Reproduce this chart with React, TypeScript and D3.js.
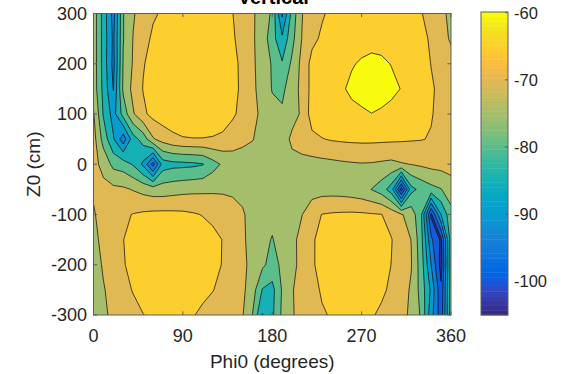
import React from "react";
import * as d3 from "d3";

// grid of the measurement (Phi0 in degrees, Z0 in cm)
const phiGrid = [
  0, 10, 20, 30, 40, 50, 60, 70, 80, 90, 100, 110, 120, 130, 140, 150, 160, 170, 180,
  190, 200, 210, 220, 230, 240, 250, 260, 270, 280, 290, 300, 310, 320, 330, 340, 350, 360,
];
const z0Grid = [300, 250, 200, 150, 100, 50, 0, -50, -100, -150, -200, -250, -300];

// one row per Z0 value (top row = 300 cm), one column per Phi0 value
const signal = [
  [-72, -82, -92, -75.2, -70.5, -67.5, -65.5, -64.5, -63.5, -63, -62.8, -63, -63.5, -64.2, -64.9, -67, -69.5, -71.5, -76, -91, -78, -70.2, -67, -65.5, -64, -63, -62.5, -62.3, -62.3, -62.5, -63, -63.5, -64.2, -64.8, -66.5, -69, -71],
  [-72, -82, -91, -75.2, -69.8, -66.5, -64.3, -63.5, -62.7, -62.3, -62.2, -62.5, -63, -63.8, -64.6, -66.2, -69.4, -72, -78, -84, -76.5, -69.8, -66.2, -64.3, -63.2, -62.3, -61.5, -61, -60.8, -61, -61.5, -62.2, -63, -64, -65.5, -68.5, -70.5],
  [-72, -82, -91.5, -74.5, -69.5, -65.3, -63.5, -62.5, -62, -61.5, -61.3, -61.5, -62, -62.8, -64, -65.8, -69.2, -72, -75.5, -79.5, -74, -68.5, -63.5, -62.5, -61.7, -60.8, -60.2, -59.7, -59.4, -59.5, -60.1, -61, -62, -63.3, -65.1, -67, -68.5],
  [-72, -81.5, -90.2, -74, -68.5, -64.8, -62.8, -62, -61.5, -61, -60.8, -61, -61.5, -62.3, -63.5, -66, -69, -71.8, -75.3, -76, -72.5, -68.5, -63.5, -62, -61, -60.3, -59.5, -58.8, -58.5, -58.8, -59.3, -60.1, -61.5, -63, -64.5, -66, -68],
  [-69.5, -80.5, -87, -78, -70.5, -66, -63.5, -62.3, -61.6, -61.2, -61, -61.2, -61.7, -62.5, -64.3, -66.3, -68.7, -71, -73.5, -74.3, -72.5, -69, -62.8, -61.8, -61.2, -60.9, -60.7, -60.5, -60.05, -60.4, -60.9, -61.5, -62.4, -63.5, -64.7, -66.3, -67.5],
  [-68, -77, -84.5, -93, -82, -78, -70.5, -68, -66.3, -65.4, -65.2, -65.2, -65.4, -66, -67.3, -68.8, -69.8, -71.5, -73, -73.5, -68.5, -67, -66.2, -65.2, -64.6, -64.3, -64.1, -64, -64, -64.1, -64.2, -64.4, -64.6, -64.8, -65.3, -66.5, -67.5],
  [-68.5, -71.5, -76.5, -77.5, -80.5, -86, -97, -82.5, -81.5, -81.3, -81, -80.3, -77, -74.3, -73, -72.5, -72.2, -72.3, -72.5, -72.5, -72.3, -72, -71.7, -71.5, -71.2, -70.8, -70.5, -70.3, -70.4, -70.8, -71.2, -70.4, -69.9, -69.2, -68.5, -68.2, -68],
  [-69.3, -68.7, -68.8, -69.2, -70.3, -71.5, -72.5, -72.5, -72, -71.5, -71.2, -71, -70.8, -70.7, -70.8, -71.2, -72, -72.5, -72.8, -72.7, -72.5, -72, -72, -72, -72, -72.2, -72.7, -73.5, -75.1, -77.5, -82.5, -102, -81.5, -78.5, -76.5, -75.2, -72.5],
  [-70.5, -68, -66.8, -65.8, -64.8, -64.2, -63.8, -63.7, -63.8, -64, -64.5, -65.2, -66, -67, -68.2, -69.5, -71.5, -73, -74, -73.5, -72, -70.1, -67, -64.9, -64.5, -64.3, -64.2, -64.3, -64.6, -64.9, -67, -69.6, -72, -79.5, -101, -85, -76.5],
  [-71.5, -68.5, -66, -65.05, -63.8, -62.8, -62.2, -61.8, -61.7, -61.8, -62.2, -62.8, -63.8, -65.1, -67, -69.3, -71.5, -74, -75.2, -73.5, -71.2, -68.5, -65.5, -63.8, -62.8, -62.2, -61.8, -61.8, -62.2, -63, -64.8, -67.5, -70.1, -78.3, -94, -101, -77],
  [-72, -69.5, -67, -65.3, -63.8, -62.7, -62, -61.5, -61.3, -61.4, -61.8, -62.5, -63.7, -65.2, -67.5, -68.8, -71.5, -74, -77, -74, -71.3, -68.5, -65.6, -63.5, -62.3, -61.5, -61.2, -61.2, -61.7, -62.8, -65.1, -67.5, -69.8, -77.5, -90, -102, -77],
  [-72.5, -70.3, -68.5, -66.5, -64.7, -63.5, -62.7, -62.2, -62, -62.2, -62.8, -63.8, -64.8, -66.5, -68.3, -69, -72.5, -80.3, -81.5, -74.5, -70.2, -68.8, -66.5, -64.5, -63, -62.2, -61.8, -62, -62.8, -64, -66, -68.3, -70.5, -77, -86, -99, -77],
  [-73, -70.8, -69, -68, -66.5, -65.1, -64.2, -63.7, -63.5, -63.8, -64.7, -66, -67.3, -68.3, -69, -69.6, -75, -85.3, -81, -74, -70.5, -68, -66.5, -65.5, -64.6, -63.8, -63.5, -63.6, -64.5, -66, -67.5, -68.5, -71, -75.7, -88, -98, -77],
];

const levelList = [-100, -95, -90, -85, -80, -75, -70, -65, -60];
const phiTicks = [0, 90, 180, 270, 360];
const z0Ticks = [-300, -200, -100, 0, 100, 200, 300];
const colorTicks = [-100, -90, -80, -70, -60];
const colorLimits = [-105, -59.9];

// MATLAB parula, 64 entries
const PARULA = [
  [0.2081, 0.1663, 0.5292], [0.2116, 0.1898, 0.5777], [0.2123, 0.2138, 0.627], [0.2081, 0.2386, 0.6771],
  [0.1959, 0.2645, 0.7279], [0.1707, 0.2919, 0.7792], [0.1253, 0.3242, 0.8303], [0.0591, 0.3598, 0.8683],
  [0.0117, 0.3875, 0.882], [0.006, 0.4086, 0.8828], [0.0165, 0.4266, 0.8786], [0.0329, 0.443, 0.872],
  [0.0498, 0.4586, 0.8641], [0.0629, 0.4737, 0.8554], [0.0723, 0.4887, 0.8467], [0.0779, 0.504, 0.8384],
  [0.0793, 0.52, 0.8312], [0.0749, 0.5375, 0.8263], [0.0641, 0.557, 0.824], [0.0488, 0.5772, 0.8228],
  [0.0343, 0.5966, 0.8199], [0.0265, 0.6137, 0.8135], [0.0239, 0.6287, 0.8038], [0.0231, 0.6418, 0.7913],
  [0.0228, 0.6535, 0.7768], [0.0267, 0.6642, 0.7607], [0.0384, 0.6743, 0.7436], [0.059, 0.6838, 0.7254],
  [0.0843, 0.6928, 0.7062], [0.1133, 0.7015, 0.6859], [0.1453, 0.7098, 0.6646], [0.1801, 0.7177, 0.6424],
  [0.2178, 0.725, 0.6193], [0.2586, 0.7317, 0.5954], [0.3022, 0.7376, 0.5712], [0.3482, 0.7424, 0.5473],
  [0.3953, 0.7459, 0.5244], [0.442, 0.7481, 0.5033], [0.4871, 0.7491, 0.484], [0.53, 0.7491, 0.4661],
  [0.5709, 0.7485, 0.4494], [0.6099, 0.7473, 0.4337], [0.6473, 0.7456, 0.4188], [0.6834, 0.7435, 0.4044],
  [0.7184, 0.7411, 0.3905], [0.7525, 0.7384, 0.3768], [0.7858, 0.7356, 0.3633], [0.8185, 0.7327, 0.3498],
  [0.8507, 0.7299, 0.336], [0.8824, 0.7274, 0.3217], [0.9139, 0.7258, 0.3063], [0.945, 0.7261, 0.2886],
  [0.9739, 0.7314, 0.2666], [0.9938, 0.7455, 0.2403], [0.999, 0.7653, 0.2164], [0.9955, 0.7861, 0.1967],
  [0.988, 0.8066, 0.1794], [0.9789, 0.8271, 0.1633], [0.9697, 0.8481, 0.1475], [0.9626, 0.8705, 0.1309],
  [0.9589, 0.8949, 0.1132], [0.9598, 0.9218, 0.0948], [0.9661, 0.9514, 0.0755], [0.9763, 0.9831, 0.0538],
];

const W = 562;
const H = 374;
const plot = { left: 93.5, right: 451, top: 13.5, bottom: 315 };
const cbar = { left: 481, right: 508, top: 12, bottom: 315 };
const FONT = "'Liberation Sans', Arial, Helvetica, sans-serif";
const TXT = "#262626";
const AXIS = "#5e5e5e";

function parula(v: number) {
  const t = (v - colorLimits[0]) / (colorLimits[1] - colorLimits[0]);
  const i = Math.max(0, Math.min(63, Math.floor(t * 64)));
  const [r, g, b] = PARULA[i];
  return d3.rgb(r * 255, g * 255, b * 255).formatHex();
}

export default function App() {
  const x = d3.scaleLinear().domain([0, 360]).range([plot.left, plot.right]);
  const y = d3.scaleLinear().domain([-300, 300]).range([plot.bottom, plot.top]);
  const cy = d3.scaleLinear().domain(colorLimits).range([cbar.bottom, cbar.top]);

  const nx = phiGrid.length;
  const ny = z0Grid.length;
  const colToPhi = d3.scaleLinear().domain([0.5, nx - 0.5]).range([phiGrid[0], phiGrid[nx - 1]]);
  const rowToZ = d3.scaleLinear().domain([0.5, ny - 0.5]).range([z0Grid[0], z0Grid[ny - 1]]);

  const path = d3.geoPath(
    d3.geoTransform({
      point: function (px: number, py: number) {
        this.stream.point(x(colToPhi(px)), y(rowToZ(py)));
      },
    })
  );

  const bands = d3.contours().size([nx, ny]).thresholds(levelList)(signal.flat());

  const cbSteps = d3.range(64);
  const step = (colorLimits[1] - colorLimits[0]) / 64;
  const tl = 3.6;

  return (
    <div style={{ position: "absolute", left: 0, top: 0 }}>
      <svg width={W} height={H} style={{ display: "block", background: "#fff" }}>
        <defs>
          <clipPath id="plot-clip">
            <rect x={plot.left} y={plot.top} width={plot.right - plot.left} height={plot.bottom - plot.top} />
          </clipPath>
        </defs>

        <g clipPath="url(#plot-clip)">
          <rect
            x={plot.left}
            y={plot.top}
            width={plot.right - plot.left}
            height={plot.bottom - plot.top}
            fill={parula(colorLimits[0])}
          />
          {bands.map((b, i) => (
            <path
              key={i}
              d={path(b as any) || ""}
              fill={parula(b.value)}
              stroke="#111"
              strokeWidth={0.75}
              strokeLinejoin="round"
            />
          ))}
        </g>

        {/* axes box and inward ticks */}
        <rect
          x={plot.left}
          y={plot.top}
          width={plot.right - plot.left}
          height={plot.bottom - plot.top}
          fill="none"
          stroke={AXIS}
          strokeWidth={1}
        />
        {phiTicks.map((t) => (
          <g key={"xt" + t}>
            <line x1={x(t)} x2={x(t)} y1={plot.bottom} y2={plot.bottom - tl} stroke={AXIS} />
            <line x1={x(t)} x2={x(t)} y1={plot.top} y2={plot.top + tl} stroke={AXIS} />
            <text x={x(t)} y={341.5} textAnchor="middle" fontFamily={FONT} fontSize={18} fill={TXT}>
              {t}
            </text>
          </g>
        ))}
        {z0Ticks.map((t) => (
          <g key={"yt" + t}>
            <line x1={plot.left} x2={plot.left + tl} y1={y(t)} y2={y(t)} stroke={AXIS} />
            <line x1={plot.right} x2={plot.right - tl} y1={y(t)} y2={y(t)} stroke={AXIS} />
            <text
              x={87}
              y={y(t)}
              dy="0.36em"
              textAnchor="end"
              fontFamily={FONT}
              fontSize={18}
              fill={TXT}
            >
              {t}
            </text>
          </g>
        ))}

        <text
          x={(plot.left + plot.right) / 2}
          y={368}
          textAnchor="middle"
          fontFamily={FONT}
          fontSize={19}
          fill={TXT}
        >
          Phi0 (degrees)
        </text>
        <text
          transform={`translate(39.5, ${(plot.top + plot.bottom) / 2}) rotate(-90)`}
          textAnchor="middle"
          fontFamily={FONT}
          fontSize={19}
          fill={TXT}
        >
          Z0 (cm)
        </text>
        <text
          x={(plot.left + plot.right) / 2 + 1}
          y={3.5}
          textAnchor="middle"
          fontFamily={FONT}
          fontSize={20}
          fontWeight="bold"
          fill="#000"
        >
          Vertical
        </text>

        {/* colorbar */}
        {cbSteps.map((i) => {
          const v0 = colorLimits[0] + i * step;
          const v1 = v0 + step;
          return (
            <rect
              key={"cb" + i}
              x={cbar.left}
              y={cy(v1)}
              width={cbar.right - cbar.left}
              height={cy(v0) - cy(v1) + 0.4}
              fill={parula(v0 + step / 2)}
            />
          );
        })}
        <rect
          x={cbar.left}
          y={cbar.top}
          width={cbar.right - cbar.left}
          height={cbar.bottom - cbar.top}
          fill="none"
          stroke={AXIS}
          strokeWidth={1}
        />
        {colorTicks.map((t) => (
          <g key={"ct" + t}>
            <line x1={cbar.right} x2={cbar.right - 3} y1={cy(t)} y2={cy(t)} stroke={AXIS} />
            <text
              x={514}
              y={cy(t)}
              dy="0.36em"
              fontFamily={FONT}
              fontSize={16.5}
              fill={TXT}
            >
              {t}
            </text>
          </g>
        ))}
      </svg>
    </div>
  );
}
